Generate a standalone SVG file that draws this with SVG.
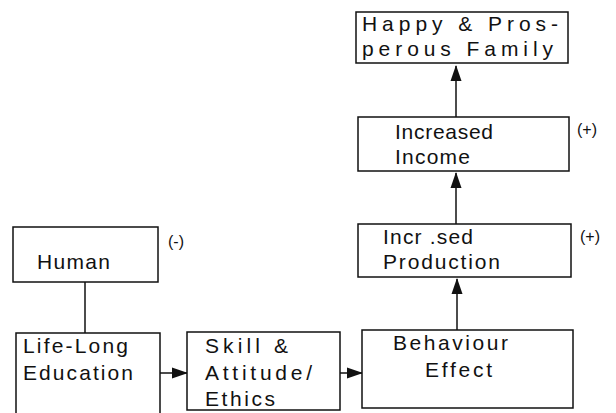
<svg xmlns="http://www.w3.org/2000/svg" width="616" height="413" viewBox="0 0 616 413">
<style>
.box{fill:#fff;stroke:#111;stroke-width:1.5}
.t{font-family:"Liberation Sans",Arial,sans-serif;font-size:21px;fill:#111}
.s{font-family:"Liberation Sans",Arial,sans-serif;font-size:16px;fill:#111}
.c{stroke:#111;stroke-width:1.5;fill:none}
</style>
<defs>
<marker id="ah" markerWidth="16" markerHeight="12" refX="15" refY="6" orient="auto" markerUnits="userSpaceOnUse">
<path d="M0,0.5 L16,6 L0,11.5 Z" fill="#111"/>
</marker>
</defs>
<rect width="616" height="413" fill="#fff"/>
<g id="connectors">
<line class="c" x1="456" y1="117" x2="456" y2="66" marker-end="url(#ah)"/>
<line class="c" x1="456" y1="224" x2="456" y2="173" marker-end="url(#ah)"/>
<line class="c" x1="457" y1="330" x2="457" y2="279" marker-end="url(#ah)"/>
<line class="c" x1="85" y1="282" x2="85" y2="333"/>
<line class="c" x1="160" y1="373" x2="187" y2="373" marker-end="url(#ah)"/>
<line class="c" x1="340" y1="373" x2="362" y2="373" marker-end="url(#ah)"/>
</g>
<g id="happy">
<rect class="box" x="356" y="12" width="212" height="51"/>
<text class="t" x="362" y="31" textLength="196" lengthAdjust="spacing">Happy &amp; Pros-</text>
<text class="t" x="362" y="56" textLength="191" lengthAdjust="spacing">perous Family</text>
</g>
<g id="income">
<rect class="box" x="358" y="117" width="211" height="54"/>
<text class="t" x="395" y="139" textLength="98" lengthAdjust="spacing">Increased</text>
<text class="t" x="395" y="164" textLength="75" lengthAdjust="spacing">Income</text>
<text class="s" x="577" y="135">(+)</text>
</g>
<g id="production">
<rect class="box" x="358" y="224" width="213" height="53"/>
<text class="t" x="383" y="244" textLength="90" lengthAdjust="spacing">Incr  .sed</text>
<text class="t" x="383" y="269" textLength="117" lengthAdjust="spacing">Production</text>
<text class="s" x="580" y="242">(+)</text>
</g>
<g id="human">
<rect class="box" x="13" y="227" width="145" height="55"/>
<text class="t" x="37" y="269" textLength="73" lengthAdjust="spacing">Human</text>
<text class="s" x="168" y="247">(-)</text>
</g>
<g id="lifelong">
<rect class="box" x="16" y="333" width="144" height="85"/>
<text class="t" x="23" y="353" textLength="105" lengthAdjust="spacing">Life-Long</text>
<text class="t" x="23" y="380" textLength="110" lengthAdjust="spacing">Education</text>
</g>
<g id="skill">
<rect class="box" x="187" y="332" width="153" height="78"/>
<text class="t" x="205" y="353" textLength="83" lengthAdjust="spacing">Skill &amp;</text>
<text class="t" x="205" y="380" textLength="107" lengthAdjust="spacing">Attitude/</text>
<text class="t" x="205" y="406" textLength="70" lengthAdjust="spacing">Ethics</text>
</g>
<g id="behaviour">
<rect class="box" x="362" y="330" width="211" height="78"/>
<text class="t" x="393" y="350" textLength="115" lengthAdjust="spacing">Behaviour</text>
<text class="t" x="425" y="377" textLength="67" lengthAdjust="spacing">Effect</text>
</g>
</svg>
